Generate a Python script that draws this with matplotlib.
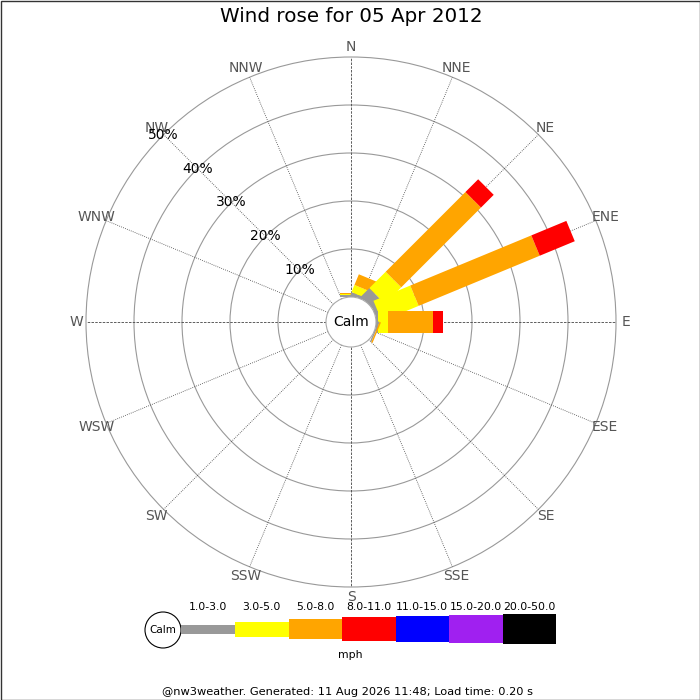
import numpy as np
import matplotlib.pyplot as plt
from matplotlib.patches import Circle, Polygon, Rectangle

# wind data: percent of time per direction for each speed bin
directions = ['N', 'NNE', 'NE', 'ENE', 'E', 'ESE', 'SE', 'SSE',
              'S', 'SSW', 'SW', 'WSW', 'W', 'WNW', 'NW', 'NNW']
speed_bins = ['1.0-3.0', '3.0-5.0', '5.0-8.0', '8.0-11.0',
              '11.0-15.0', '15.0-20.0', '20.0-50.0']
bin_colors = ['#999999', '#ffff00', '#ffa500', '#ff0000',
              '#0000ff', '#a020f0', '#000000']

# one row per direction, one column per speed bin (%)
freq = np.zeros((16, 7))
freq[0, :3] = [0.4, 0.3, 0.15]        # N
freq[1, :3] = [0.6, 1.6, 2.4]         # NNE
freq[2, :4] = [2.5, 4.8, 23.5, 3.75]  # NE
freq[3, :4] = [0.8, 8.3, 27.3, 7.9]   # ENE
freq[4, :4] = [0.4, 2.1, 9.4, 2.1]    # E
freq[5, :3] = [0.3, 0.0, 0.3]         # ESE

ring_pcts = [10, 20, 30, 40, 50]
title = 'Wind rose for 05 Apr 2012'
footer = '@nw3weather. Generated: 11 Aug 2026 11:48; Load time: 0.20 s'

px = 4.8        # pixels per percent
calm_r = 25 / px
bar_w = 22 / px
cx, cy = 351, 322   # centre of rose in pixels (from top-left)

fig = plt.figure(figsize=(7, 7), dpi=100)
ax = fig.add_axes([0, 0, 1, 1])
ax.set_xlim(-cx / px, (700 - cx) / px)
ax.set_ylim(-(700 - cy) / px, cy / px)
ax.axis('off')

angles = np.arange(16) * 22.5
outer = calm_r + ring_pcts[-1]

# rings
for p in ring_pcts:
    ax.add_patch(Circle((0, 0), calm_r + p, fill=False, ec='#999999', lw=0.8, zorder=1))

# spokes + direction labels
lr = outer + 10 / px
for name, a in zip(directions, angles):
    t = np.radians(a)
    ux, uy = np.sin(t), np.cos(t)
    ls = (0, (3, 1.5)) if len(name) == 1 else (0, (1, 1.5))
    ax.plot([calm_r * ux, outer * ux], [calm_r * uy, outer * uy],
            color='#444444', lw=0.6, ls=ls, zorder=1)
    ax.text(lr * ux, lr * uy, name, ha='center', va='center',
            fontsize=10, color='#555555', zorder=3)

# percent labels along NW spoke
t = np.radians(315)
for p in ring_pcts:
    r = calm_r + p
    ax.text(r * np.sin(t), r * np.cos(t), '%d%%' % p, ha='center', va='center',
            fontsize=10, color='black', zorder=4)

# stacked bars (rectangles of constant width)
for i, a in enumerate(angles):
    t = np.radians(a)
    u = np.array([np.sin(t), np.cos(t)])
    perp = np.array([np.cos(t), -np.sin(t)])
    r1 = calm_r
    for j in range(7):
        v = freq[i, j]
        if v <= 0:
            continue
        r2 = r1 + v
        pts = [r1 * u + perp * bar_w / 2, r2 * u + perp * bar_w / 2,
               r2 * u - perp * bar_w / 2, r1 * u - perp * bar_w / 2]
        ax.add_patch(Polygon(pts, closed=True, fc=bin_colors[j], ec='none', zorder=2))
        r1 = r2

# calm circle
ax.add_patch(Circle((0, 0), calm_r, fc='white', ec='#aaaaaa', lw=0.8, zorder=3))
ax.text(0, 0, 'Calm', ha='center', va='center', fontsize=10, zorder=4)

# overlay in pixel coords for title / legend / footer
ov = fig.add_axes([0, 0, 1, 1])
ov.set_xlim(0, 700)
ov.set_ylim(700, 0)
ov.axis('off')
ov.patch.set_alpha(0)

ov.text(351, 17, title, ha='center', va='center', fontsize=14.3)

ov.add_patch(Circle((163, 630), 18, fc='white', ec='black', lw=0.8))
ov.text(163, 630, 'Calm', ha='center', va='center', fontsize=7.5)
heights = [9, 15, 20, 24, 26, 28, 30]
x0 = 181
for j, lab in enumerate(speed_bins):
    w = 54 if j == 0 else 53.5
    h = heights[j]
    ov.add_patch(Rectangle((x0, 629 - h / 2), w, h, fc=bin_colors[j], ec='none'))
    ov.text(x0 + w / 2, 607, lab, ha='center', va='center', fontsize=7.8)
    x0 += w
ov.text(350, 655, 'mph', ha='center', va='center', fontsize=7.8)

ov.text(348, 692, footer, ha='center', va='center', fontsize=8.2)
ov.add_patch(Rectangle((0.5, 0.5), 699, 699, fill=False, ec='#333333', lw=1))

fig.savefig('out.png', dpi=100)
